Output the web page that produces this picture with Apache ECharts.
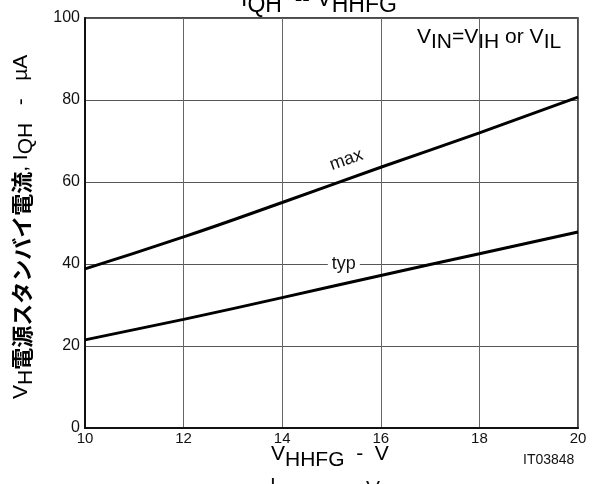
<!DOCTYPE html>
<html>
<head>
<meta charset="utf-8">
<script src="https://cdn.jsdelivr.net/npm/echarts@6/dist/echarts.min.js"></script>
<style>
html,body{margin:0;padding:0;background:#fff;}
#chart{width:601px;height:484px;}
</style>
</head>
<body>
<div id="chart"></div>
<script>
// Supply voltage VHHFG (V)
var voltage = [10, 12, 14, 16, 18, 20];
// Standby current IQH (µA)
var iqhMax = [38.8, 46.6, 55.0, 63.6, 72.0, 80.7];
var iqhTyp = [21.5, 26.5, 31.8, 37.2, 42.5, 47.8];
var xTicks = [10, 12, 14, 16, 18, 20];
var yTicks = [0, 20, 40, 60, 80, 100];

var FONT = '"Liberation Sans", Arial, sans-serif';
var chart = echarts.init(document.getElementById('chart'));

function pairs(xs, ys) { return xs.map(function (x, i) { return [x, ys[i]]; }); }

var sub = function (size, drop) {
  return { fontSize: size, fontFamily: FONT, color: '#111', verticalAlign: 'top', padding: [drop, 0, 0, 0], lineHeight: size + 4 };
};
var base = function (size) {
  return { fontSize: size, fontFamily: FONT, color: '#111', verticalAlign: 'top', lineHeight: size + 4 };
};

chart.setOption({
  animation: false,
  backgroundColor: '#fff',
  grid: { left: 85, right: 23, top: 18, bottom: 56, show: true, borderColor: '#111', borderWidth: 1.5 },
  xAxis: {
    type: 'value', min: xTicks[0], max: xTicks[xTicks.length - 1], interval: 2,
    axisLine: { show: true, lineStyle: { color: '#111', width: 2 } },
    axisTick: { show: false },
    splitLine: { show: true, lineStyle: { color: '#666', width: 1 } },
    axisLabel: { color: '#111', fontSize: 15, fontFamily: FONT, margin: 3 }
  },
  yAxis: {
    type: 'value', min: yTicks[0], max: yTicks[yTicks.length - 1], interval: 20,
    axisLine: { show: true, lineStyle: { color: '#111', width: 2 } },
    axisTick: { show: false },
    splitLine: { show: true, lineStyle: { color: '#555', width: 1 } },
    axisLabel: { color: '#111', fontSize: 16, fontFamily: FONT, margin: 5 }
  },
  series: [
    { name: 'max', type: 'line', data: pairs(voltage, iqhMax), smooth: true, symbol: 'none', lineStyle: { color: '#000', width: 3 } },
    { name: 'typ', type: 'line', data: pairs(voltage, iqhTyp), smooth: true, symbol: 'none', lineStyle: { color: '#000', width: 3 } }
  ]
});

var pMax = chart.convertToPixel({ gridIndex: 0 }, [15.3, 65.4]);
var pTyp = chart.convertToPixel({ gridIndex: 0 }, [15.25, 40]);

chart.setOption({
  graphic: [
    // curve labels
    { type: 'text', x: pMax[0], y: pMax[1], rotation: 0.34, z: 10,
      style: { text: 'max', font: '18px ' + FONT, fill: '#111', align: 'center', verticalAlign: 'middle' } },
    { type: 'text', x: pTyp[0], y: pTyp[1], z: 10,
      style: { text: 'typ', font: '18px ' + FONT, fill: '#111', align: 'center', verticalAlign: 'middle',
               backgroundColor: '#fff', padding: [0, 4, 0, 4] } },
    // condition note
    { type: 'text', x: 417, y: 27, z: 10,
      style: { text: '{b|V}{s|IN}{b|=V}{s|IH}{b| or V}{s|IL}', align: 'left',
               rich: { b: base(21), s: sub(21, 5) } } },
    // title (partly above the canvas)
    { type: 'text', x: 241, y: -12, z: 10,
      style: { text: '{b|I}{s|QH}{b|  -- V}{s|HHFG}', rich: { b: base(23), s: sub(23, 6) } } },
    // x axis name
    { type: 'text', x: 271, y: 444, z: 10,
      style: { text: '{b|V}{s|HHFG}{b|  -  V}', rich: { b: base(21), s: sub(21, 6) } } },
    // caption below (cut at the canvas edge)
    { type: 'text', x: 270, y: 476, z: 10,
      style: { text: 'I', font: '21px ' + FONT, fill: '#111' } },
    { type: 'text', x: 366, y: 479, z: 10,
      style: { text: 'V', font: '21px ' + FONT, fill: '#111' } },
    // figure id
    { type: 'text', x: 523, y: 453, z: 10,
      style: { text: 'IT03848', font: '14px ' + FONT, fill: '#111' } },
    // y axis name
    { type: 'text', x: 11, y: 399, rotation: Math.PI / 2, z: 10,
      style: { text: '{b|V}{s|H}{j|電源スタンバイ電流}{b|, I}{s|QH}{b|   -   µA}',
               rich: { b: base(21), s: sub(21, 5),
                       j: { fontSize: 22, fontWeight: 'bold', fontFamily: '"Noto Sans CJK JP", sans-serif', color: '#111', verticalAlign: 'top', lineHeight: 25 } } } }
  ]
});
</script>
</body>
</html>
